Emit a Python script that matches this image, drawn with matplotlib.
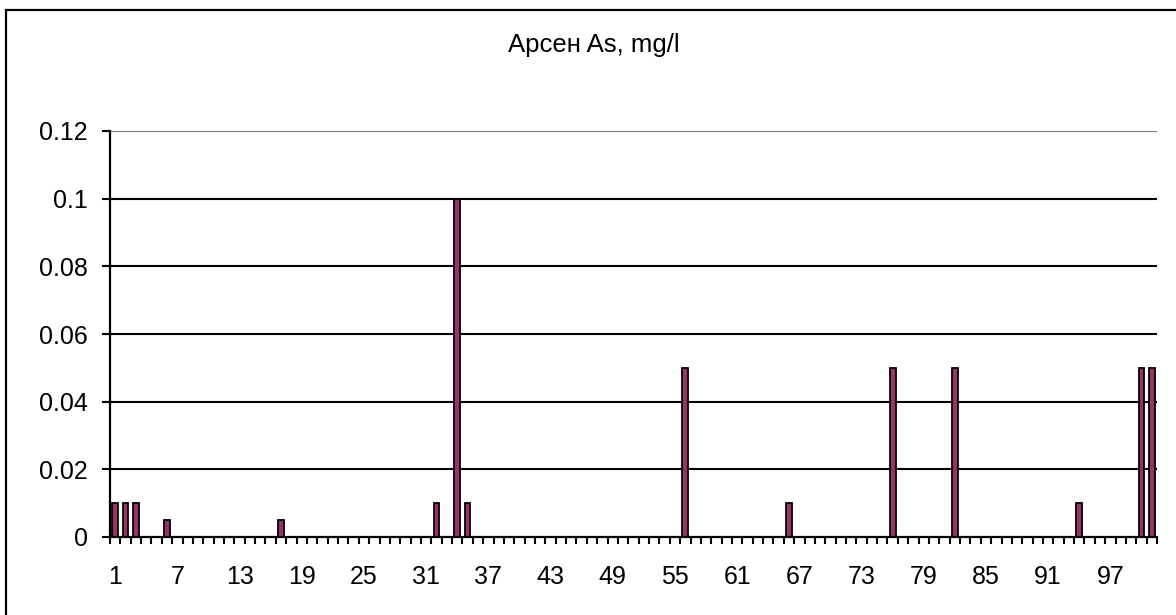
import matplotlib
matplotlib.use("Agg")
import matplotlib.pyplot as plt
from matplotlib.patches import Rectangle
from matplotlib.ticker import FixedLocator, FixedFormatter

plt.rcParams['font.family'] = ['Liberation Sans', 'DejaVu Sans']

title = "Арсен As, mg/l"
samples = list(range(1, 102))
arsenic = [
    0.01, 0.01, 0.01, 0, 0, 0.005, 0, 0, 0, 0,          # 1-10
    0, 0, 0, 0, 0, 0, 0.005, 0, 0, 0,                   # 11-20
    0, 0, 0, 0, 0, 0, 0, 0, 0, 0,                       # 21-30
    0, 0.01, 0, 0.1, 0.01, 0, 0, 0, 0, 0,               # 31-40
    0, 0, 0, 0, 0, 0, 0, 0, 0, 0,                       # 41-50
    0, 0, 0, 0, 0, 0.05, 0, 0, 0, 0,                    # 51-60
    0, 0, 0, 0, 0, 0.01, 0, 0, 0, 0,                    # 61-70
    0, 0, 0, 0, 0, 0.05, 0, 0, 0, 0,                    # 71-80
    0, 0.05, 0, 0, 0, 0, 0, 0, 0, 0,                    # 81-90
    0, 0, 0, 0.01, 0, 0, 0, 0, 0, 0.05,                 # 91-100
    0.05,                                               # 101
]
x_labels = list(range(1, 102, 6))
y_ticks = [0, 0.02, 0.04, 0.06, 0.08, 0.1, 0.12]
y_labels = ["0", "0.02", "0.04", "0.06", "0.08", "0.1", "0.12"]

fig = plt.figure(figsize=(11.76, 6.15), dpi=100)
fig.patch.set_facecolor('white')
# outer chart border (left/top visible)
fig.add_artist(Rectangle((6/1176, -0.05), 1.2, (1 - 10/615) + 0.05,
                         transform=fig.transFigure, fill=False,
                         edgecolor='black', linewidth=1.6))

ax = fig.add_axes([110/1176, 1 - 537/615, (1157 - 110)/1176, (537 - 131)/615])
ax.set_xlim(0.5, len(samples) + 0.5)
ax.set_ylim(0, 0.12)

for y in y_ticks[1:]:
    ax.axhline(y, color='black' if y < 0.12 else '#7a7a7a', linewidth=1.5, zorder=1)

ax.bar(samples, arsenic, width=0.55, color='#993366', edgecolor='black',
       linewidth=1.3, zorder=3)

for s in ['top', 'right']:
    ax.spines[s].set_visible(False)
for s in ['left', 'bottom']:
    ax.spines[s].set_linewidth(1.6)
    ax.spines[s].set_zorder(4)

ax.yaxis.set_major_locator(FixedLocator(y_ticks))
ax.yaxis.set_major_formatter(FixedFormatter(y_labels))
ax.tick_params(axis='y', direction='out', length=5.8, width=1.5, labelsize=18, pad=10)

ax.xaxis.set_major_locator(FixedLocator(x_labels))
ax.xaxis.set_major_formatter(FixedFormatter([str(v) for v in x_labels]))
ax.xaxis.set_minor_locator(FixedLocator([i + 0.5 for i in range(0, len(samples) + 1)]))
ax.tick_params(axis='x', which='major', length=0, labelsize=18, pad=20)
ax.tick_params(axis='x', which='minor', direction='out', length=5, width=1.5)

fig.text(594/1176, 1 - 45/615, title, ha='center', va='center', fontsize=18.5)

fig.savefig('out.png', dpi=100)
